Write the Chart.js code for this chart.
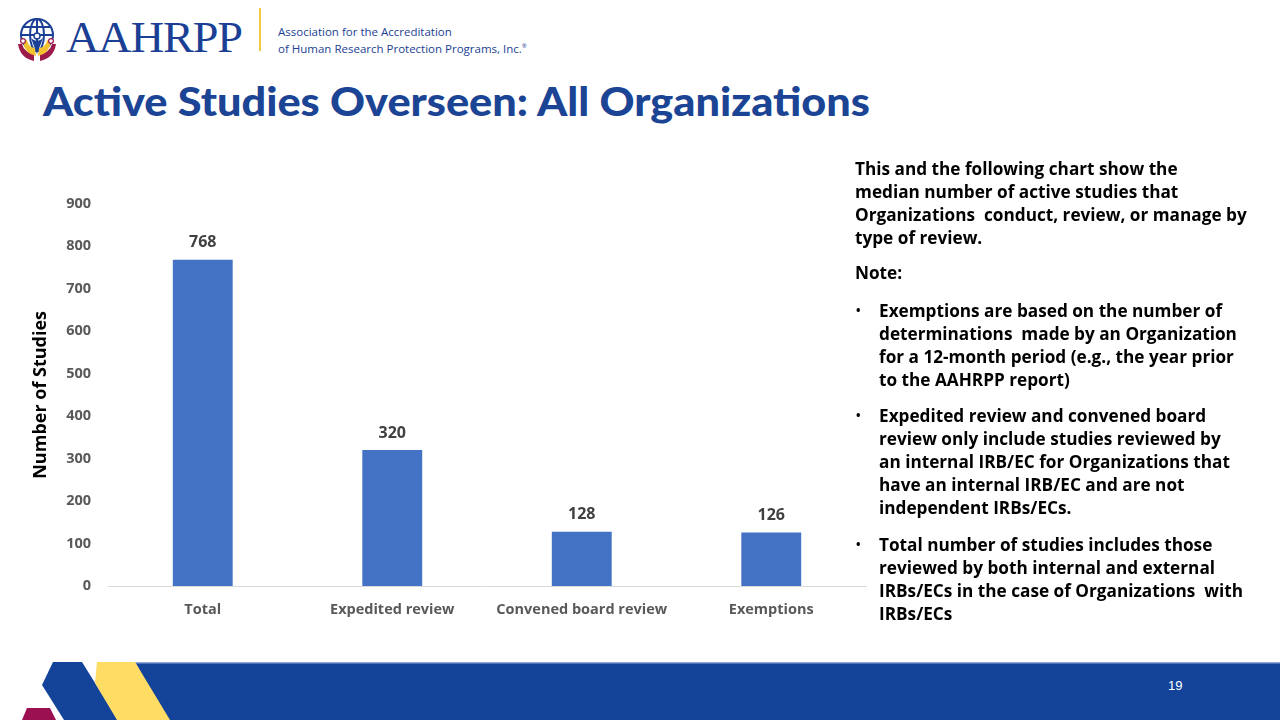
<!DOCTYPE html>
<html>
<head>
<meta charset="utf-8">
<script src="https://cdn.jsdelivr.net/npm/chart.js@4"></script>
<style>
  html, body { margin: 0; padding: 0; background: #fff; }
  body { width: 1280px; height: 720px; position: relative; overflow: hidden; font-family: Lato, "Open Sans", sans-serif; }
  .abs { position: absolute; white-space: nowrap; }
  .brand { left: 66px; top: 12px; font-family: "Liberation Serif", "DejaVu Serif", serif; font-size: 44px; color: #1b3f94; letter-spacing: -1px; transform-origin: left top; }
  .tag { left: 278px; top: 24px; font-family: "Open Sans", sans-serif; font-size: 11.5px; line-height: 15px; color: #1b3f94; }
  .title { left: 43px; top: 78px; font-size: 39px; font-weight: 900; color: #1b4495; transform-origin: left top; }
  .note, .bul { left: 855px; font-family: "Open Sans", sans-serif; font-size: 17.2px; font-weight: 700; color: #000; line-height: 23px; }
  .bul span.dot { position: absolute; left: 1px; top: 0; font-size: 12px; }
  .bul div.txt { margin-left: 24px; }
  #chartBox { position: absolute; left: 0; top: 178px; width: 880px; height: 457px; }
  .pnum { left: 1168px; top: 678px; font-size: 13px; color: #fff; font-family: "Liberation Sans Narrow", "Liberation Sans", sans-serif; }
</style>
</head>
<body>
<!-- logo -->
<svg class="abs" style="left:12px;top:14px" width="50" height="50" viewBox="0 0 50 50">
  <g fill="none" stroke="#1b3f94" stroke-width="2">
    <circle cx="25" cy="21" r="16"/>
    <ellipse cx="25" cy="21" rx="7" ry="16"/>
    <line x1="9" y1="21" x2="41" y2="21"/>
    <line x1="12" y1="13" x2="38" y2="13"/>
    <line x1="25" y1="5" x2="25" y2="37"/>
  </g>
  <path d="M6 30 Q8 44 22 47 L22 40 Q12 38 10 30 Z" fill="#9b1b4b"/>
  <path d="M11 28 Q13 40 24 42 L23 34 Q16 33 15 26 Z" fill="#f2c230"/>
  <path d="M44 30 Q42 44 28 47 L28 40 Q38 38 40 30 Z" fill="#9b1b4b"/>
  <path d="M39 28 Q37 40 26 42 L27 34 Q34 33 35 26 Z" fill="#f2c230"/>
  <path d="M19 24 L25 40 L31 24 Q25 30 19 24 Z" fill="#1b3f94"/>
  <circle cx="25" cy="22" r="3" fill="#fff" stroke="#1b3f94" stroke-width="1.5"/>
  <circle cx="11" cy="27" r="2.4" fill="#fff" stroke="#9b1b4b" stroke-width="1.2"/>
  <circle cx="39" cy="27" r="2.4" fill="#fff" stroke="#9b1b4b" stroke-width="1.2"/>
</svg>
<div class="abs brand" id="brand">AAHRPP</div>
<div class="abs" style="left:259px;top:8px;width:2px;height:43px;background:#f5c842"></div>
<div class="abs tag">Association for the Accreditation<br>of Human Research Protection Programs, Inc.<sup style="font-size:6px">®</sup></div>

<div class="abs title" id="title">Active Studies Overseen: All Organizations</div>

<div id="chartBox"><canvas id="chart"></canvas></div>

<div class="abs note" style="top:157px">This and the following chart show the<br>median number of active studies that<br>Organizations&nbsp; conduct, review, or manage by<br>type of review.</div>
<div class="abs note" style="top:261px">Note:</div>
<div class="abs bul" style="top:299px"><span class="dot">•</span><div class="txt">Exemptions are based on the number of<br>determinations&nbsp; made by an Organization<br>for a 12-month period (e.g., the year prior<br>to the AAHRPP report)</div></div>
<div class="abs bul" style="top:404px"><span class="dot">•</span><div class="txt">Expedited review and convened board<br>review only include studies reviewed by<br>an internal IRB/EC for Organizations that<br>have an internal IRB/EC and are not<br>independent IRBs/ECs.</div></div>
<div class="abs bul" style="top:533px"><span class="dot">•</span><div class="txt">Total number of studies includes those<br>reviewed by both internal and external<br>IRBs/ECs in the case of Organizations&nbsp; with<br>IRBs/ECs</div></div>

<!-- footer -->
<svg class="abs" style="left:0;top:640px" width="1280" height="80">
  <polygon points="27,68 50,68 56,80 22,80" fill="#9b1050"/>
  <polygon points="135,22 1280,22 1280,80 167,80" fill="#13449a"/>
  <rect x="135" y="22" width="1145" height="1.5" fill="#8fa8d6"/>
  <polygon points="53,22 82,22 118,80 64,80 42,45" fill="#13449a"/>
  <polygon points="97,22 135,22 170,80 117,80 95,43" fill="#ffdc64"/>
</svg>
<div class="abs pnum">19</div>

<script>
const categories = ["Total", "Expedited review", "Convened board review", "Exemptions"];
const studyCounts = [768, 320, 128, 126];
const yTicks = [0, 100, 200, 300, 400, 500, 600, 700, 800, 900];

// squeeze wide text to the width it has in the slide
function fitWidth(id, w) {
  const el = document.getElementById(id);
  const r = el.getBoundingClientRect().width;
  el.style.transform = "scaleX(" + (w / r) + ")";
}
fitWidth("title", 827);
fitWidth("brand", 176);

const barLabels = {
  id: "barLabels",
  afterDatasetsDraw(chart) {
    const ctx = chart.ctx;
    const meta = chart.getDatasetMeta(0);
    ctx.save();
    ctx.font = "bold 16px 'Open Sans'";
    ctx.fillStyle = "#404040";
    ctx.textAlign = "center";
    ctx.textBaseline = "middle";
    meta.data.forEach((bar, i) => {
      ctx.fillText(studyCounts[i], bar.x, bar.y - 17);
    });
    ctx.restore();
  },
};

const tickFont = { family: "Open Sans", size: 14.5, weight: "bold" };

new Chart(document.getElementById("chart").getContext("2d"), {
  type: "bar",
  data: {
    labels: categories,
    datasets: [
      {
        data: studyCounts,
        backgroundColor: "#4472c4",
        categoryPercentage: 1,
        barPercentage: 0.316,
      },
    ],
  },
  options: {
    responsive: true,
    maintainAspectRatio: false,
    animation: false,
    layout: { padding: { top: 10, right: 14, left: 0, bottom: 0 } },
    plugins: { legend: { display: false }, tooltip: { enabled: false } },
    scales: {
      x: {
        grid: { display: false, drawTicks: false },
        border: { display: true, color: "#d9d9d9", width: 1 },
        ticks: { color: "#595959", font: tickFont, padding: 15, maxRotation: 0 },
        afterFit: (s) => { s.height = 49; },
      },
      y: {
        min: 0,
        max: 900,
        afterBuildTicks: (s) => { s.ticks = yTicks.map((v) => ({ value: v })); },
        grid: { display: false, drawTicks: false },
        border: { display: false },
        ticks: { color: "#595959", font: tickFont, padding: 17 },
        title: {
          display: true,
          text: "Number of Studies",
          color: "#000",
          font: { family: "Open Sans", size: 18, weight: "bold" },
          padding: { top: 30, bottom: 0 },
        },
        afterFit: (s) => { s.width = 108; },
      },
    },
  },
  plugins: [barLabels],
});
</script>
</body>
</html>
